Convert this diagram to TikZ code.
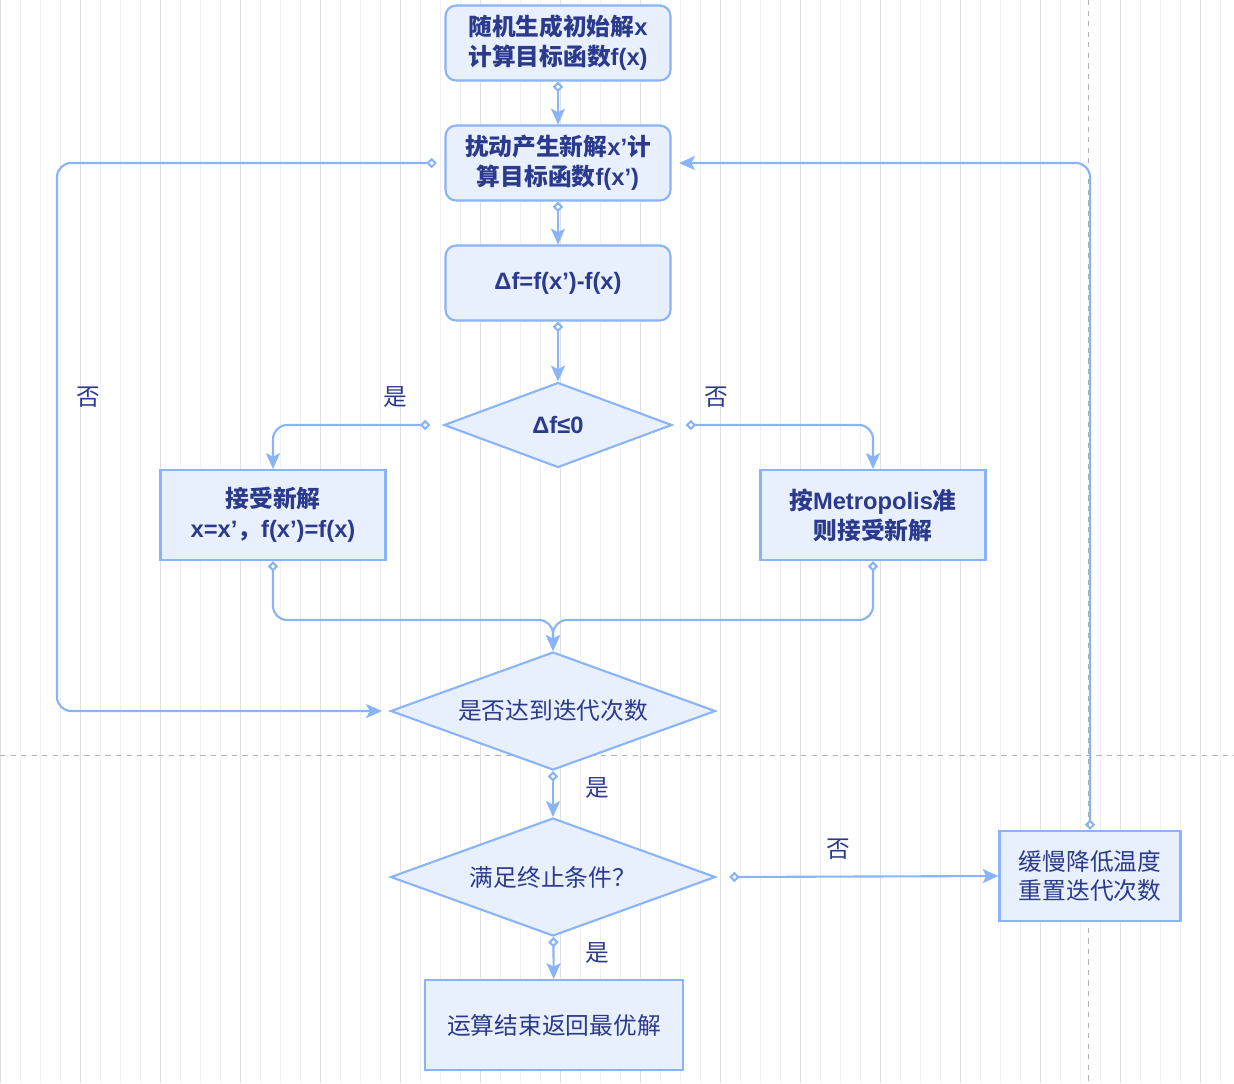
\documentclass[tikz,border=0pt]{standalone}
\usepackage{fontspec}
\setmainfont{Liberation Sans}
\newfontfamily\cjk{Noto Sans CJK SC}
\usetikzlibrary{shapes,arrows.meta,positioning,fit,backgrounds}
\definecolor{edgeblue}{HTML}{8AB4F8}
\definecolor{fillblue}{HTML}{E8F0FE}
\definecolor{textblue}{HTML}{2B3A8C}
\newcommand{\zh}[1]{{\cjk #1}}
\begin{document}
\begin{tikzpicture}[
    x=0.02cm, y=-0.02cm,
    font=\fontsize{13.5}{17}\selectfont\bfseries\color{textblue},
    box/.style={
        rectangle,
        draw=edgeblue,
        fill=fillblue,
        line width=1.2pt,
        minimum height=1.5cm,
        minimum width=4.5cm,
        align=center
    },
    rbox/.style={box, rounded corners=6pt},
    decision/.style={
        diamond,
        draw=edgeblue,
        fill=fillblue,
        line width=1.2pt,
        aspect=2.7,
        inner sep=1pt,
        align=center
    },
    line/.style={draw=edgeblue, line width=1.2pt, rounded corners=8pt,
        {Diamond[open,length=6pt,width=6pt]}-{Stealth[length=9pt,width=8pt,inset=2pt]}},
    lbl/.style={font=\fontsize{13.5}{17}\selectfont\cjk\color{textblue}}
]
\useasboundingbox (0,0) rectangle (1234,1083);
% grid
\draw[black!6, line width=0.4pt] (0,0) grid[step=20] (1234,1083);
\draw[black!12, line width=0.4pt] (0,0) grid[step=80] (1234,1083);
\draw[black!30, dashed] (0,755) -- (1234,755);
\draw[black!30, dashed] (1088,0) -- (1088,1083);

% blocks
\node [rbox] (init) at (558,43) {\zh{随机生成初始解}x\\\zh{计算目标函数}f(x)};
\node [rbox] (perturb) at (558,163) {\zh{扰动产生新解}x'\zh{计}\\\zh{算目标函数}f(x')};
\node [rbox] (delta) at (558,283) {Δf=f(x')-f(x)};
\node [decision, minimum width=4.56cm, minimum height=1.7cm] (judge) at (558,425) {Δf≤0};
\node [box, minimum height=1.8cm] (accept) at (273,515) {\zh{接受新解}\\x=x'\zh{，}f(x')=f(x)};
\node [box, minimum height=1.8cm] (metro) at (873,515) {\zh{按}Metropolis\zh{准}\\\zh{则接受新解}};
\node [decision, minimum width=6.5cm, minimum height=2.36cm, font=\fontsize{13.5}{17}\selectfont\cjk\color{textblue}] (iter) at (553,711) {是否达到迭代次数};
\node [decision, minimum width=6.5cm, minimum height=2.36cm, font=\fontsize{13.5}{17}\selectfont\cjk\color{textblue}] (stop) at (553,877) {满足终止条件？};
\node [box, minimum width=5.16cm, minimum height=1.8cm, font=\fontsize{13.5}{17}\selectfont\cjk\color{textblue}] (finish) at (554,1025) {运算结束返回最优解};
\node [box, minimum width=3.62cm, minimum height=1.8cm, font=\fontsize{13.5}{17}\selectfont\cjk\color{textblue}] (cool) at (1090,876) {缓慢降低温度\\重置迭代次数};

% connections
\draw [line] (init) -- (perturb);
\draw [line] (perturb) -- (delta);
\draw [line] (delta) -- (judge);
\draw [line] ([xshift=-0.25cm]judge.west) -| (accept.north);
\draw [line] ([xshift=0.25cm]judge.east) -| (metro.north);
\draw [line] (accept.south) |- (553,620) -- (iter.north);
\draw [line] (metro.south) |- (553,620) -- (iter.north);
\draw [line] ([xshift=-0.15cm]perturb.west) -| (57,711) -- ([xshift=-0.15cm]iter.west);
\draw [line] (iter) -- (stop);
\draw [line] ([xshift=0.25cm]stop.east) -- (cool.west);
\draw [line] (stop) -- (finish);
\draw [line] (cool.north) |- ([xshift=0.15cm]perturb.east);

% labels
\node [lbl] (yes1) at (395,397) {是};
\node [lbl] (no1) at (716,397) {否};
\node [lbl] (no2) at (88,397) {否};
\node [lbl] (yes2) at (597,788) {是};
\node [lbl] (no3) at (838,849) {否};
\node [lbl] (yes3) at (597,953) {是};
\end{tikzpicture}
\end{document}
